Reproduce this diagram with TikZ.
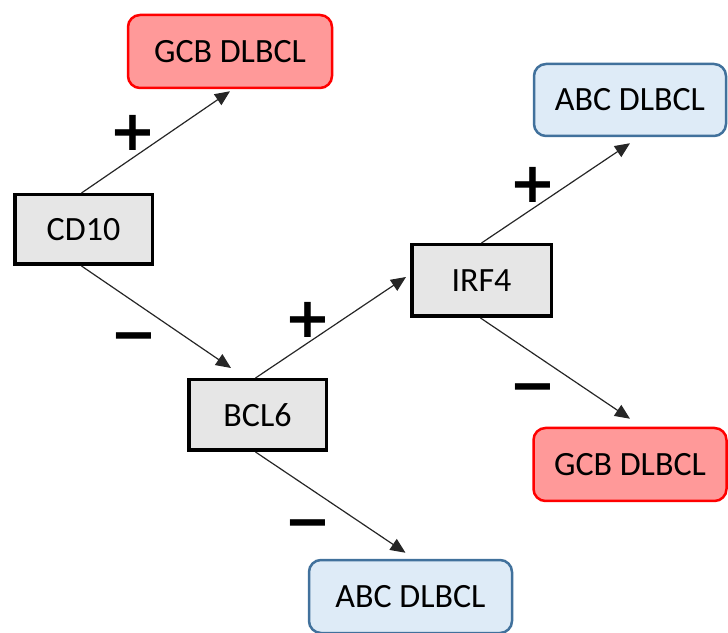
\documentclass[tikz,border=0pt]{standalone}
\usepackage{fontspec}
\setmainfont{Carlito}
\newfontfamily\signfont{DejaVu Sans}
\usetikzlibrary{arrows.meta}
\definecolor{gcbfill}{HTML}{FF9999}
\definecolor{gcbline}{HTML}{FF0000}
\definecolor{abcfill}{HTML}{DEEBF7}
\definecolor{abcline}{HTML}{41719C}
\definecolor{genefill}{HTML}{E6E6E6}
\begin{document}
\begin{tikzpicture}[x=1pt,y=1pt,
  lbl/.style={inner sep=0pt, font=\fontsize{34}{40}\selectfont},
  gene/.style={lbl, draw=black, line width=3.5pt, fill=genefill},
  gcb/.style={lbl, draw=gcbline, line width=2.5pt, fill=gcbfill, rounded corners=12pt},
  abc/.style={lbl, draw=abcline, line width=2.5pt, fill=abcfill, rounded corners=12pt},
  arr/.style={-{Triangle[length=15pt,width=13pt]}, line width=1.2pt, draw=black!85},
  sign/.style={anchor=base, inner sep=0pt, font=\signfont\bfseries\fontsize{56}{60}\selectfont}
]
\useasboundingbox (0,0) rectangle (728,632);
% nodes
\node[gcb, minimum width=204pt, minimum height=73pt] (gcb1) at (230,580.5) {GCB DLBCL};
\node[gene, minimum width=137.5pt, minimum height=69.5pt] (cd10) at (83.5,402.5) {CD10};
\node[abc, minimum width=192pt, minimum height=72pt] (abc1) at (630,532) {ABC DLBCL};
\node[gene, minimum width=139.5pt, minimum height=71.5pt] (irf4) at (481.5,351.5) {IRF4};
\node[gene, minimum width=137.5pt, minimum height=70.5pt] (bcl6) at (257.5,217) {BCL6};
\node[gcb, minimum width=193pt, minimum height=73pt] (gcb2) at (630,167.5) {GCB DLBCL};
\node[abc, minimum width=203pt, minimum height=73pt] (abc2) at (410.5,35.5) {ABC DLBCL};
% connectors
\draw[arr] ([xshift=-2pt]cd10.north) -- ([yshift=-2pt]gcb1.south);
\draw[arr] ([xshift=-2pt]cd10.south) -- ([xshift=44pt,yshift=10pt]bcl6.north west);
\draw[arr] ([xshift=-2pt]bcl6.north) -- ([xshift=-4pt,yshift=3.5pt]irf4.west);
\draw[arr] ([xshift=-2pt]bcl6.south) -- ([xshift=-5pt,yshift=6pt]abc2.north);
\draw[arr] (irf4.north) -- ([yshift=-6pt]abc1.south);
\draw[arr] ([xshift=-1pt]irf4.south) -- ([yshift=8pt]gcb2.north);
% signs
\node[sign] (s1) at (133,481) {+};
\node[sign] (s2) at (134,278) {−};
\node[sign] (s3) at (308,294) {+};
\node[sign] (s4) at (308,92) {−};
\node[sign] (s5) at (533,429) {+};
\node[sign] (s6) at (533,227) {−};
\end{tikzpicture}
\end{document}
